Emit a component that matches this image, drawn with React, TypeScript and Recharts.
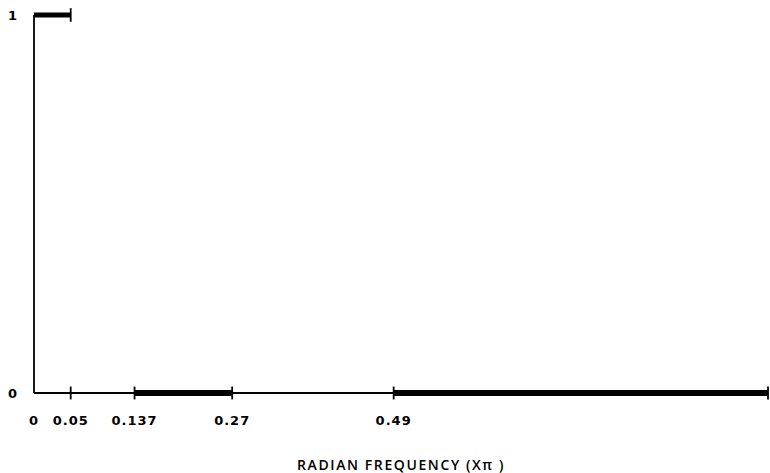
import { LineChart, Line, XAxis, YAxis, ReferenceLine } from 'recharts';

// band edges in units of pi
const xTicks = [0, 0.05, 0.137, 0.27, 0.49];
const yTicks = [0, 1];

const passband = [
  { f: 0, g: 1 },
  { f: 0.05, g: 1 },
];
const stopband1 = [
  { f: 0.137, g: 0 },
  { f: 0.27, g: 0 },
];
const stopband2 = [
  { f: 0.49, g: 0 },
  { f: 1, g: 0 },
];

// little cross marks at band edges
const marksAtZero = [0.05, 0.137, 0.27, 0.49, 1];
const marksAtOne = [0.05];

const tickFont = { fontSize: 13, fontWeight: 700, fill: '#000', fontFamily: 'DejaVu Sans', letterSpacing: 1 };

export default function App() {
  return (
    <div style={{ position: 'absolute', left: 0, top: 0, background: '#fff' }}>
      <LineChart width={770} height={473} margin={{ top: 15, right: 2, bottom: 0, left: 0 }}>
        <XAxis
          dataKey="f"
          type="number"
          domain={[0, 1]}
          ticks={xTicks}
          tickLine={false}
          tickMargin={17}
          height={80}
          axisLine={{ stroke: '#000', strokeWidth: 1.8 }}
          tick={tickFont}
          label={{
            value: 'RADIAN FREQUENCY (Xπ )',
            position: 'insideBottom',
            offset: 3,
            style: { fontSize: 14, fontWeight: 600, fill: '#000', fontFamily: 'Open Sans', letterSpacing: 1.6 },
          }}
        />
        <YAxis
          type="number"
          domain={[0, 1]}
          ticks={yTicks}
          width={34}
          tickLine={false}
          tickMargin={10}
          axisLine={{ stroke: '#000', strokeWidth: 1.8 }}
          tick={tickFont}
        />

        {marksAtZero.map((m) => (
          <ReferenceLine
            key={'z' + m}
            segment={[{ x: m, y: -0.017 }, { x: m, y: 0.017 }]}
            stroke="#000"
            strokeWidth={1.8}
            ifOverflow="visible"
          />
        ))}
        {marksAtOne.map((m) => (
          <ReferenceLine
            key={'o' + m}
            segment={[{ x: m, y: 0.982 }, { x: m, y: 1.018 }]}
            stroke="#000"
            strokeWidth={1.8}
            ifOverflow="visible"
          />
        ))}

        <Line data={passband} dataKey="g" stroke="#000" strokeWidth={5} dot={false} isAnimationActive={false} />
        <Line data={stopband1} dataKey="g" stroke="#000" strokeWidth={6} dot={false} isAnimationActive={false} />
        <Line data={stopband2} dataKey="g" stroke="#000" strokeWidth={6} dot={false} isAnimationActive={false} />
      </LineChart>
    </div>
  );
}
